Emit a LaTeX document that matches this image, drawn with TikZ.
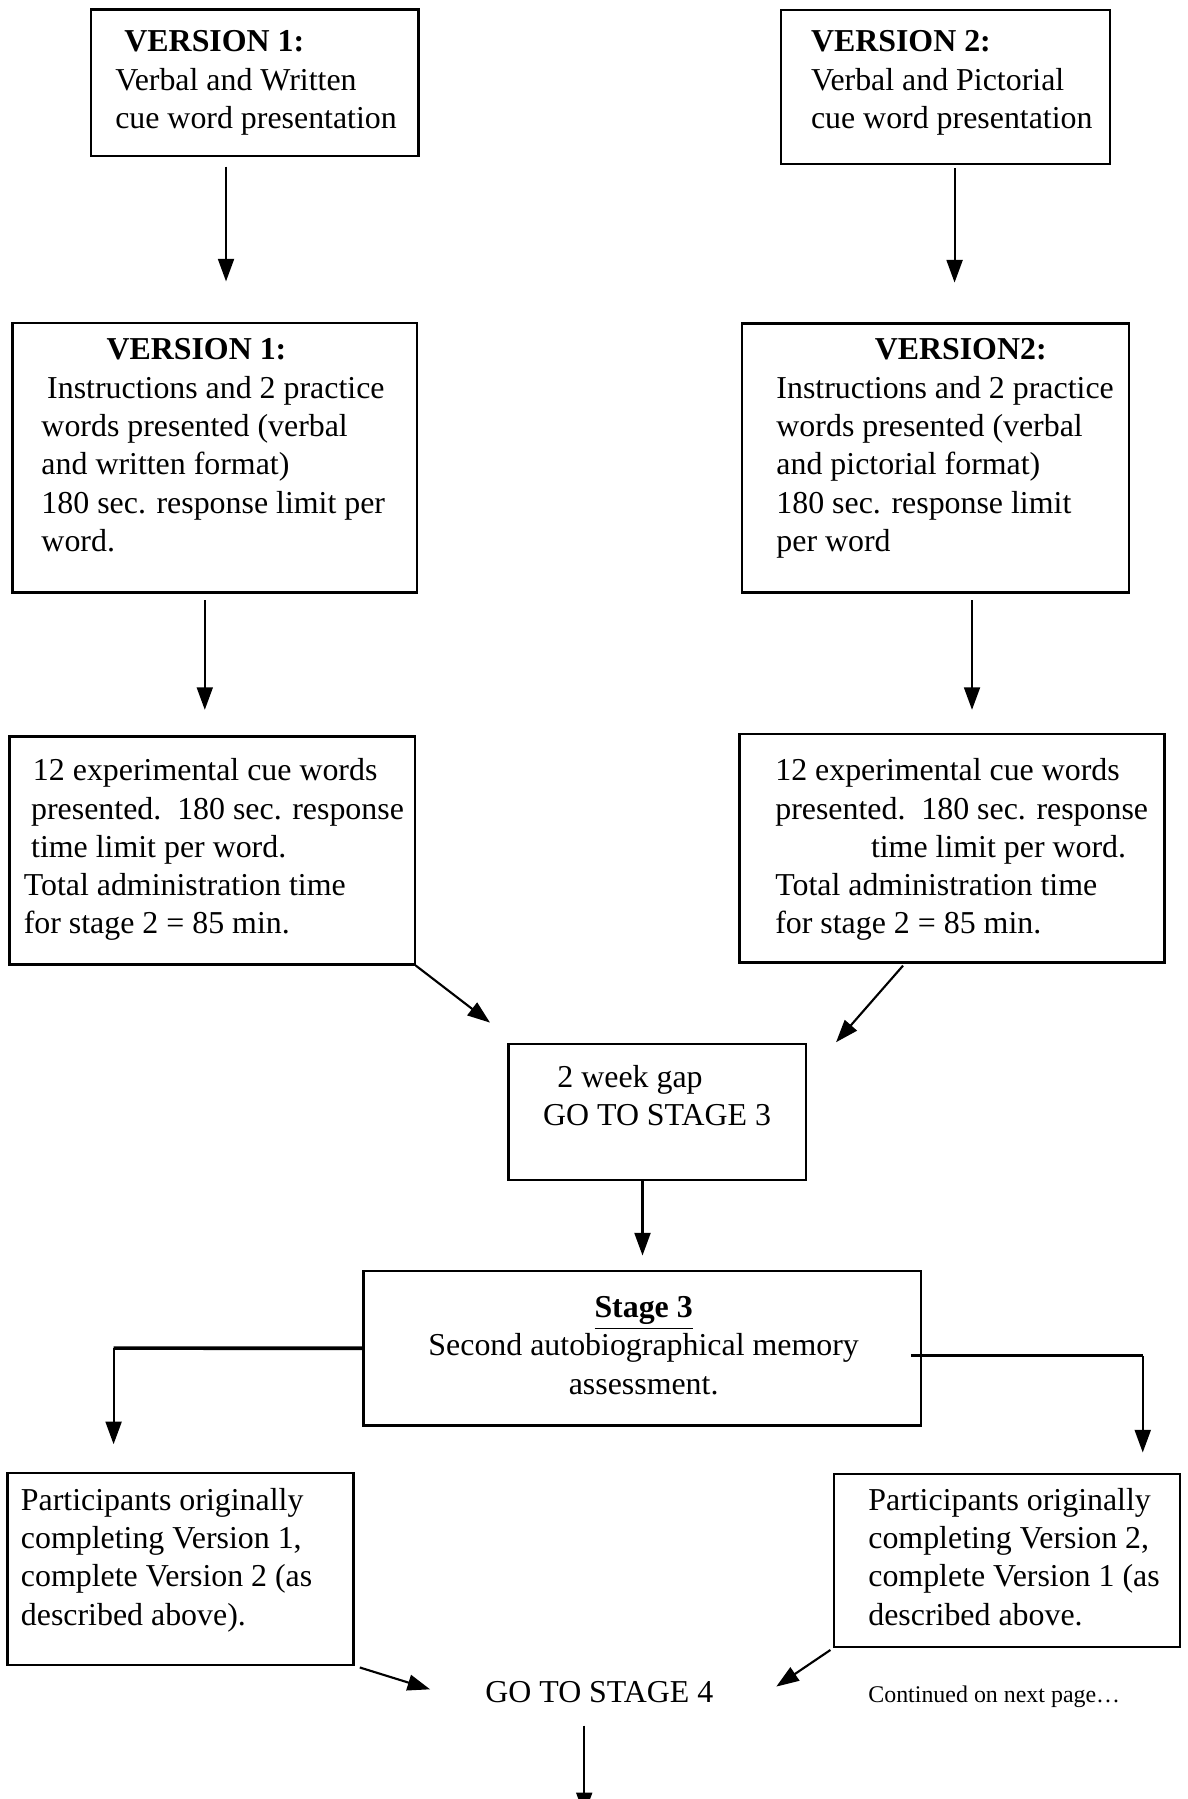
\documentclass[tikz,border=0pt]{standalone}
\usepackage{fontspec}
\setmainfont{Liberation Serif}
\usetikzlibrary{arrows.meta,fit}
\newlength\unitpx
\setlength\unitpx{0.4318pt}

\begin{document}
\begin{tikzpicture}[x=0.4318pt, y=-0.4318pt,
	box/.style={draw, line width=0.85pt, inner sep=0pt},
	txt/.style={anchor=base west, align=left, inner sep=0pt, font=\fontsize{12}{14.4}\selectfont},
	arr/.style={line width=0.8pt, -{Triangle[length=8.5pt,width=6pt]}},
	bar/.style={line width=1.4pt}]
	\path[use as bounding box, fill=white] (0,0) rectangle (1035,1568);

	% stage 2, version 1 (text nodes sit on the baseline of their last line)
	\node[box, fit={(79,8.3) (364.7,135.8)}] (v1cue) {};
	\node[txt] (v1cuet) at (100,111.8) {\hspace{8\unitpx}\textbf{VERSION 1:}\\Verbal and Written\\cue word presentation};
	\node[box, fit={(11,281.3) (363.7,516.5)}] (v1inst) {};
	\node[txt] (v1instt) at (35.7,480.5) {\hspace{56.7\unitpx}\textbf{VERSION 1:}\\\hspace{5\unitpx}Instructions and 2 practice\\words presented (verbal\\and written format)\\180 sec. response limit per\\word.};
	\node[box, fit={(8.3,642) (361.4,840.6)}] (v1exp) {};
	\node[txt] (v1expt) at (20.3,813.9) {\hspace{8\unitpx}12 experimental cue words\\\hspace{6.4\unitpx}presented.\ \ 180 sec. response\\\hspace{6.4\unitpx}time limit per word.\\Total administration time\\for stage 2 = 85 min.};

	% stage 2, version 2
	\node[box, fit={(681,9) (967.7,142.8)}] (v2cue) {};
	\node[txt] (v2cuet) at (706.4,112) {\textbf{VERSION 2:}\\Verbal and Pictorial\\cue word presentation};
	\node[box, fit={(647,282) (984,516.5)}] (v2inst) {};
	\node[txt] (v2instt) at (676.3,480.5) {\hspace{85.7\unitpx}\textbf{VERSION2:}\\Instructions and 2 practice\\words presented (verbal\\and pictorial format)\\180 sec. response limit\\per word};
	\node[box, fit={(644.6,639.7) (1015,839)}] (v2exp) {};
	\node[txt] (v2expt) at (675.3,813.9) {12 experimental cue words\\presented.\ \ 180 sec. response\\\hspace{83.4\unitpx}time limit per word.\\Total administration time\\for stage 2 = 85 min.};

	% gap and stage 3
	\node[box, fit={(443.2,909.7) (702.8,1028.3)}] (gap) {};
	\node[txt] (gapt) at (472.9,980.9) {\hspace{12.5\unitpx}2 week gap\\GO TO STAGE 3};
	\node[box, fit={(316.8,1107.6) (802.6,1242.5)}] (st3) {};
	\node[txt, anchor=base, align=center] (st3t) at (561,1215.1) {\underline{\textbf{Stage 3}}\\Second autobiographical memory\\assessment.};
	\node[box, fit={(6.6,1283.8) (308.2,1451)}] (swap1) {};
	\node[txt] (swap1t) at (17.8,1416.5) {Participants originally\\completing Version 1,\\complete Version 2 (as\\described above).};
	\node[box, fit={(726.7,1284.7) (1028.4,1435.8)}] (swap2) {};
	\node[txt] (swap2t) at (756.4,1416.5) {Participants originally\\completing Version 2,\\complete Version 1 (as\\described above.};
	\node[txt, anchor=base] (st4) at (522.4,1483.8) {GO TO STAGE 4};
	\node[txt, font=\fontsize{9}{11}\selectfont] (cont) at (756.4,1483.8) {Continued on next page…};

	% free arrow ends
	\coordinate (c1a) at (197,145.2);
	\coordinate (c1b) at (197,245.3);
	\coordinate (c2a) at (832,146.8);
	\coordinate (c2b) at (832,246.3);
	\coordinate (c3a) at (178.5,523);
	\coordinate (c3b) at (178.5,618.7);
	\coordinate (c4a) at (847.2,523);
	\coordinate (c4b) at (847.2,618.7);
	\coordinate (c5) at (427.1,891.3);
	\coordinate (c6a) at (787.1,841.6);
	\coordinate (c6b) at (728.7,908.4);
	\coordinate (c7a) at (560,1028.3);
	\coordinate (c7b) at (560,1094.3);
	\coordinate (l1) at (99,1175);
	\coordinate (l2) at (99,1258.8);
	\coordinate (r0) at (794,1181.5);
	\coordinate (r1) at (996,1181.5);
	\coordinate (r2) at (996,1266);
	\coordinate (c8) at (374.9,1472.4);
	\coordinate (c9) at (676.6,1470);
	\coordinate (c10a) at (509.2,1504);
	\coordinate (c10b) at (509.2,1582);

	\draw[arr] (c1a) -- (c1b);
	\draw[arr] (c2a) -- (c2b);
	\draw[arr] (c3a) -- (c3b);
	\draw[arr] (c4a) -- (c4b);
	\draw[arr] (v1exp.south east) -- (c5);
	\draw[arr] (c6a) -- (c6b);
	\draw[arr] (c7a) -- (c7b);
	\draw[bar] (st3.west) -- (l1);
	\draw[arr] (l1) -- (l2);
	\draw[bar] (r0) -- (r1);
	\draw[arr] (r1) -- (r2);
	\draw[arr, shorten <=2pt] (swap1.south east) -- (c8);
	\draw[arr, shorten <=1pt] (swap2.south west) -- (c9);
	\draw[arr] (c10a) -- (c10b);
\end{tikzpicture}
\end{document}
